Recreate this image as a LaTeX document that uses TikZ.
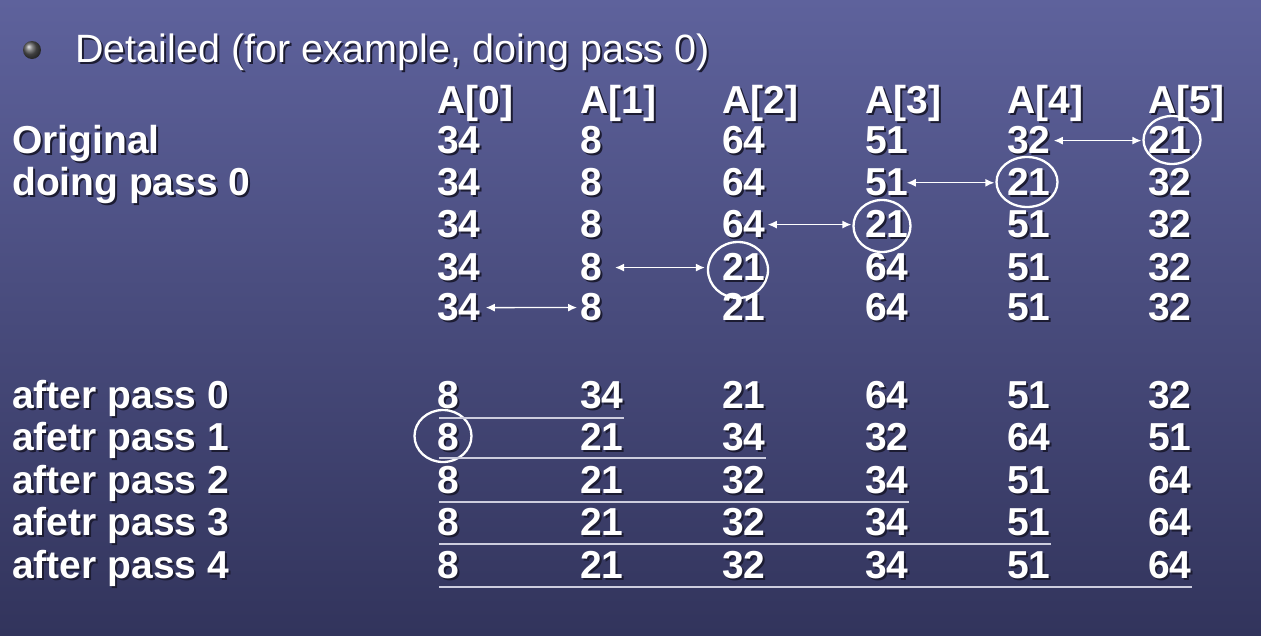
\documentclass[tikz,border=0pt]{standalone}
\usepackage{fontspec}
\setmainfont{Liberation Sans}
\usetikzlibrary{arrows.meta,shapes.geometric}
\definecolor{bgtop}{RGB}{94,98,156}
\definecolor{bgbot}{RGB}{50,52,92}
\definecolor{shd}{RGB}{28,28,50}
\definecolor{rulec}{RGB}{205,205,222}
\newcommand{\shtxt}[1]{\leavevmode\rlap{\kern2pt\raisebox{-2pt}{\textcolor{shd}{#1}}}#1}
\newcommand{\tabrow}[3]{%
  \foreach \v [count=\i from 0] in {#3} {%
    \pgfmathsetmacro\cx{{437,580,722,865,1007,1148}[\i]}%
    \node[cell] (#1c\i) at (\cx,#2) {\shtxt{\v}};}}
\begin{document}
\begin{tikzpicture}[x=1pt,y=-1pt,
  cell/.style={anchor=base west, inner sep=0pt, text=white, font=\fontsize{39}{39}\bfseries\selectfont},
  lab/.style={cell},
  ring/.style={ellipse, draw=white, line width=2.3pt, inner sep=0pt},
  swp/.style={{Latex[length=9pt,width=8pt]}-{Latex[length=9pt,width=8pt]}, draw=white, line width=1.3pt},
  rulel/.style={draw=rulec, line width=2pt}]
\shade[top color=bgtop, bottom color=bgbot] (0,0) rectangle (1261,635);
\useasboundingbox (0,0) rectangle (1261,635);
% title
\node[circle, shading=ball, ball color=gray!70!black, minimum size=18pt, inner sep=0pt] (bul) at (32,50) {};
\node[anchor=base west, inner sep=0pt, text=white, font=\fontsize{39.5}{39.5}\selectfont] (title) at (75,62) {\shtxt{Detailed (for example, doing pass 0)}};
% header and rows
\tabrow{h}{113}{A[0],A[1],A[2],A[3],A[4],A[5]}
\tabrow{ra}{153}{34,8,64,51,32,21}
\tabrow{rb}{195}{34,8,64,51,21,32}
\tabrow{rc}{237}{34,8,64,21,51,32}
\tabrow{rd}{280}{34,8,21,64,51,32}
\tabrow{re}{320}{34,8,21,64,51,32}
\tabrow{pa}{408}{8,34,21,64,51,32}
\tabrow{pb}{450}{8,21,34,32,64,51}
\tabrow{pc}{493}{8,21,32,34,51,64}
\tabrow{pd}{535}{8,21,32,34,51,64}
\tabrow{pe}{578}{8,21,32,34,51,64}
% labels
\node[lab] (l1) at (12,153) {\shtxt{Original}};
\node[lab] (l2) at (12,195) {\shtxt{doing pass 0}};
\node[lab] (l3) at (12,408) {\shtxt{after pass 0}};
\node[lab] (l4) at (12,450) {\shtxt{afetr pass 1}};
\node[lab] (l5) at (12,493) {\shtxt{after pass 2}};
\node[lab] (l6) at (12,535) {\shtxt{afetr pass 3}};
\node[lab] (l7) at (12,578) {\shtxt{after pass 4}};
% circles
\node[ring, minimum width=57pt, minimum height=48pt] (k1) at (1172,140) {};
\node[ring, minimum width=61pt, minimum height=50pt] (k2) at (1027,182) {};
\node[ring, minimum width=57pt, minimum height=52pt] (k3) at (882,226) {};
\node[ring, minimum width=60pt, minimum height=56pt] (k4) at (738,270) {};
\node[ring, minimum width=57pt, minimum height=52pt] (k5) at (443,436) {};
% swap arrows
\draw[swp] ([xshift=3pt]rac4.east) -- ([xshift=-1pt]k1.west |- rac4.east);
\draw[swp] ([xshift=-2pt]rbc3.east) -- ([xshift=-1pt]k2.west |- rbc3.east);
\draw[swp] ([xshift=2pt]rcc2.east) -- ([xshift=-1pt]k3.west |- rcc2.east);
\draw[swp] ([xshift=13pt]rdc1.east) -- ([xshift=-2pt]k4.west |- rdc1.east);
\draw[swp] ([xshift=5pt]rec0.east) -- ([xshift=-3pt]rec1.west);
% underlines
\draw[rulel] ([xshift=2pt,yshift=-10pt]pac0.base west) -- ([yshift=-10pt]pac1.base east);
\draw[rulel] ([xshift=2pt,yshift=-8pt]pbc0.base west) -- ([yshift=-8pt]pbc2.base east);
\draw[rulel] ([xshift=2pt,yshift=-9pt]pcc0.base west) -- ([yshift=-9pt]pcc3.base east);
\draw[rulel] ([xshift=2pt,yshift=-9pt]pdc0.base west) -- ([yshift=-9pt]pdc4.base east);
\draw[rulel] ([xshift=2pt,yshift=-9pt]pec0.base west) -- ([yshift=-9pt]pec5.base east);
\end{tikzpicture}
\end{document}
